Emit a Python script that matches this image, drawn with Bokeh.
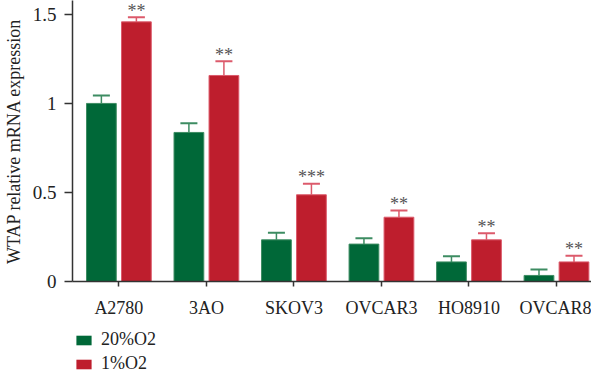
from bokeh.plotting import figure
from bokeh.layouts import column
from bokeh.models import (ColumnDataSource, FixedTicker, Legend, LegendItem,
                          Whisker, TeeHead)
from bokeh.core.properties import value
from bokeh.embed import file_html
from bokeh.resources import INLINE

categories = ["A2780", "3AO", "SKOV3", "OVCAR3", "HO8910", "OVCAR8"]
normoxia = [1.0, 0.837, 0.234, 0.21, 0.11, 0.034]
normoxia_err = [0.045, 0.052, 0.04, 0.033, 0.032, 0.033]
hypoxia = [1.458, 1.157, 0.487, 0.361, 0.234, 0.11]
hypoxia_err = [0.026, 0.08, 0.062, 0.038, 0.037, 0.034]
stars = ["**", "**", "***", "**", "**", "**"]
series_names = ["20%O2", "1%O2"]
y_ticks = [0, 0.5, 1, 1.5]
y_tick_labels = {0: "0", 0.5: "0.5", 1: "1", 1.5: "1.5"}

GREEN = "#006838"
GREEN_LIGHT = "#3d8c62"
RED = "#be1e2d"
RED_LIGHT = "#dc5a6b"
FONT = "Liberation Serif"

idx = list(range(len(categories)))
dodge = 0.2
bw = 0.34

src_g = ColumnDataSource(dict(x=[i - dodge for i in idx], top=normoxia,
                              up=[v + e for v, e in zip(normoxia, normoxia_err)]))
src_r = ColumnDataSource(dict(x=[i + dodge for i in idx], top=hypoxia,
                              up=[v + e for v, e in zip(hypoxia, hypoxia_err)],
                              star_y=[v + e + 0.037 for v, e in zip(hypoxia, hypoxia_err)],
                              star=stars))

p = figure(frame_width=519, frame_height=281, output_backend="svg",
           toolbar_location=None,
           x_range=(-0.53, 5.40), y_range=(0, 1.578),
           min_border_left=65, min_border_right=0, min_border_top=0,
           min_border_bottom=40)
p.outline_line_color = None
p.grid.visible = False
p.background_fill_color = "white"

rg = p.vbar(x="x", top="top", width=bw, source=src_g, fill_color=GREEN,
            line_color=GREEN_LIGHT, line_width=1)
rr = p.vbar(x="x", top="top", width=bw, source=src_r, fill_color=RED,
            line_color=RED_LIGHT, line_width=1)

wg = Whisker(base="x", upper="up", lower="top", source=src_g, dimension="height",
             line_color=GREEN_LIGHT, line_width=1.5,
             upper_head=TeeHead(size=17, line_color=GREEN_LIGHT, line_width=2),
             lower_head=None)
wr = Whisker(base="x", upper="up", lower="top", source=src_r, dimension="height",
             line_color=RED_LIGHT, line_width=1.5,
             upper_head=TeeHead(size=17, line_color=RED_LIGHT, line_width=2),
             lower_head=None)
p.add_layout(wg)
p.add_layout(wr)

p.text(x="x", y="star_y", text="star", source=src_r, text_align="center",
       text_baseline="middle", text_font=value(FONT), text_font_size="18px",
       text_color="#555555")

# axes
p.xaxis.ticker = FixedTicker(ticks=idx)
p.xaxis.major_label_overrides = {i: c for i, c in zip(idx, categories)}
p.xaxis.major_tick_out = 5
p.xaxis.major_tick_in = 0
p.xaxis.minor_tick_line_color = None
p.xaxis.major_label_standoff = 11
p.xaxis.major_label_text_font = FONT
p.xaxis.major_label_text_font_size = "18px"
p.xaxis.major_label_text_color = "#222222"
p.xaxis.axis_line_color = "#333333"
p.xaxis.axis_line_width = 1.5
p.xaxis.major_tick_line_color = "#333333"
p.xaxis.major_tick_line_width = 1.5

p.yaxis.ticker = FixedTicker(ticks=y_ticks)
p.yaxis.major_label_overrides = y_tick_labels
p.yaxis.major_tick_out = 8
p.yaxis.major_tick_in = 0
p.yaxis.minor_tick_line_color = None
p.yaxis.major_label_standoff = 8
p.yaxis.major_label_text_font = FONT
p.yaxis.major_label_text_font_size = "19px"
p.yaxis.major_label_text_color = "#222222"
p.yaxis.axis_line_color = "#333333"
p.yaxis.axis_line_width = 1.5
p.yaxis.major_tick_line_color = "#333333"
p.yaxis.major_tick_line_width = 1.5
p.yaxis.axis_label = "WTAP relative mRNA expression"
p.yaxis.axis_label_text_font = FONT
p.yaxis.axis_label_text_font_size = "18px"
p.yaxis.axis_label_text_font_style = "normal"
p.yaxis.axis_label_text_color = "#222222"
p.yaxis.axis_label_standoff = 6

# legend strip below the chart (its sample bars are degenerate and off-range)
lg = figure(width=584, height=53, output_backend="svg",
            toolbar_location=None, min_border_left=0, min_border_right=0,
            min_border_top=0, min_border_bottom=0,
            x_axis_location=None, y_axis_location=None,
            x_range=(0, 1), y_range=(0, 1))
lg.outline_line_color = None
lg.grid.visible = False
lrg = lg.vbar(x=[0.5], bottom=[5], top=[5], width=0, fill_color=GREEN,
              line_color=None)
lrr = lg.vbar(x=[0.5], bottom=[5], top=[5], width=0, fill_color=RED,
              line_color=None)
legend = Legend(items=[LegendItem(label=series_names[0], renderers=[lrg]),
                       LegendItem(label=series_names[1], renderers=[lrr])],
                orientation="vertical", location=(2, 0),
                glyph_width=19, glyph_height=12, label_height=12,
                spacing=3, padding=0, margin=0, label_standoff=8,
                label_text_font=FONT, label_text_font_size="18px",
                label_text_color="#222222", border_line_color=None,
                background_fill_alpha=0)
lg.add_layout(legend)

layout = column(p, lg, spacing=0)
open("out.html", "w").write(file_html(layout, INLINE))
